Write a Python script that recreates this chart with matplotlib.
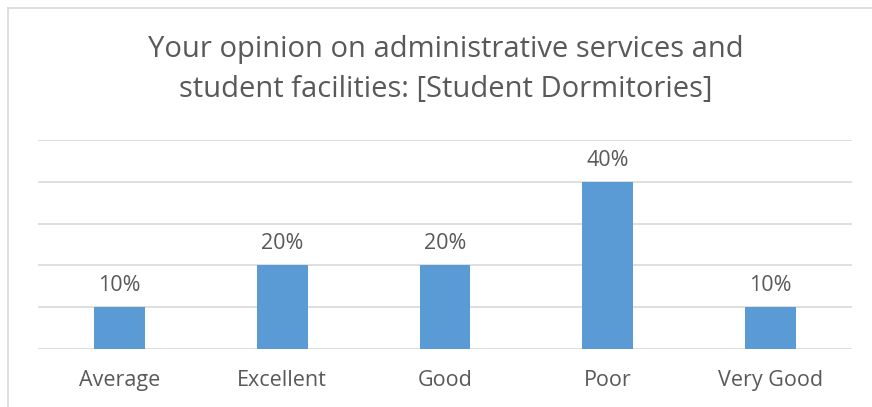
import numpy as np
import matplotlib.pyplot as plt
from matplotlib.lines import Line2D

categories = ['Average', 'Excellent', 'Good', 'Poor', 'Very Good']
values = [0.10, 0.20, 0.20, 0.40, 0.10]
labels = ['10%', '20%', '20%', '40%', '10%']
yticks = [0, 0.1, 0.2, 0.3, 0.4, 0.5]

text_col = '#595959'
grid_col = '#D9D9D9'
bar_col = '#5B9BD5'

plt.rcParams['font.family'] = ['Open Sans', 'DejaVu Sans']

W, H = 872, 407
fig = plt.figure(figsize=(W / 100, H / 100), dpi=100)
ax = fig.add_axes([38 / W, (H - 349) / H, (852 - 38) / W, (349 - 140) / H])

x = np.arange(len(categories))
ax.bar(x, values, width=0.313, color=bar_col, zorder=3)
for xi, v, lab in zip(x, values, labels):
    ax.annotate(lab, (xi, v), xytext=(0, 8), textcoords='offset points',
                ha='center', va='bottom', fontsize=15.5, color=text_col)

ax.set_xlim(-0.5, len(categories) - 0.5)
ax.set_ylim(0, 0.5)
ax.set_yticks(yticks)
ax.set_yticklabels([])
ax.tick_params(axis='y', length=0)
ax.tick_params(axis='x', length=0, pad=15, labelsize=15.5, labelcolor=text_col)
ax.set_xticks(x)
ax.set_xticklabels(categories)
ax.grid(axis='y', color=grid_col, linewidth=1.2, zorder=0)
for s in ax.spines.values():
    s.set_visible(False)

fig.text(446 / W, 1 - 70 / H,
         'Your opinion on administrative services and\nstudent facilities: [Student Dormitories]',
         ha='center', va='center', fontsize=21, color=text_col, linespacing=1.5)

# chart frame (cropped: only top and left visible)
fig.add_artist(Line2D([8 / W, 1], [1 - 8 / H, 1 - 8 / H], color=grid_col, linewidth=1.2,
                      transform=fig.transFigure))
fig.add_artist(Line2D([8 / W, 8 / W], [0, 1 - 8 / H], color=grid_col, linewidth=1.2,
                      transform=fig.transFigure))

fig.savefig('out.png', dpi=100)
